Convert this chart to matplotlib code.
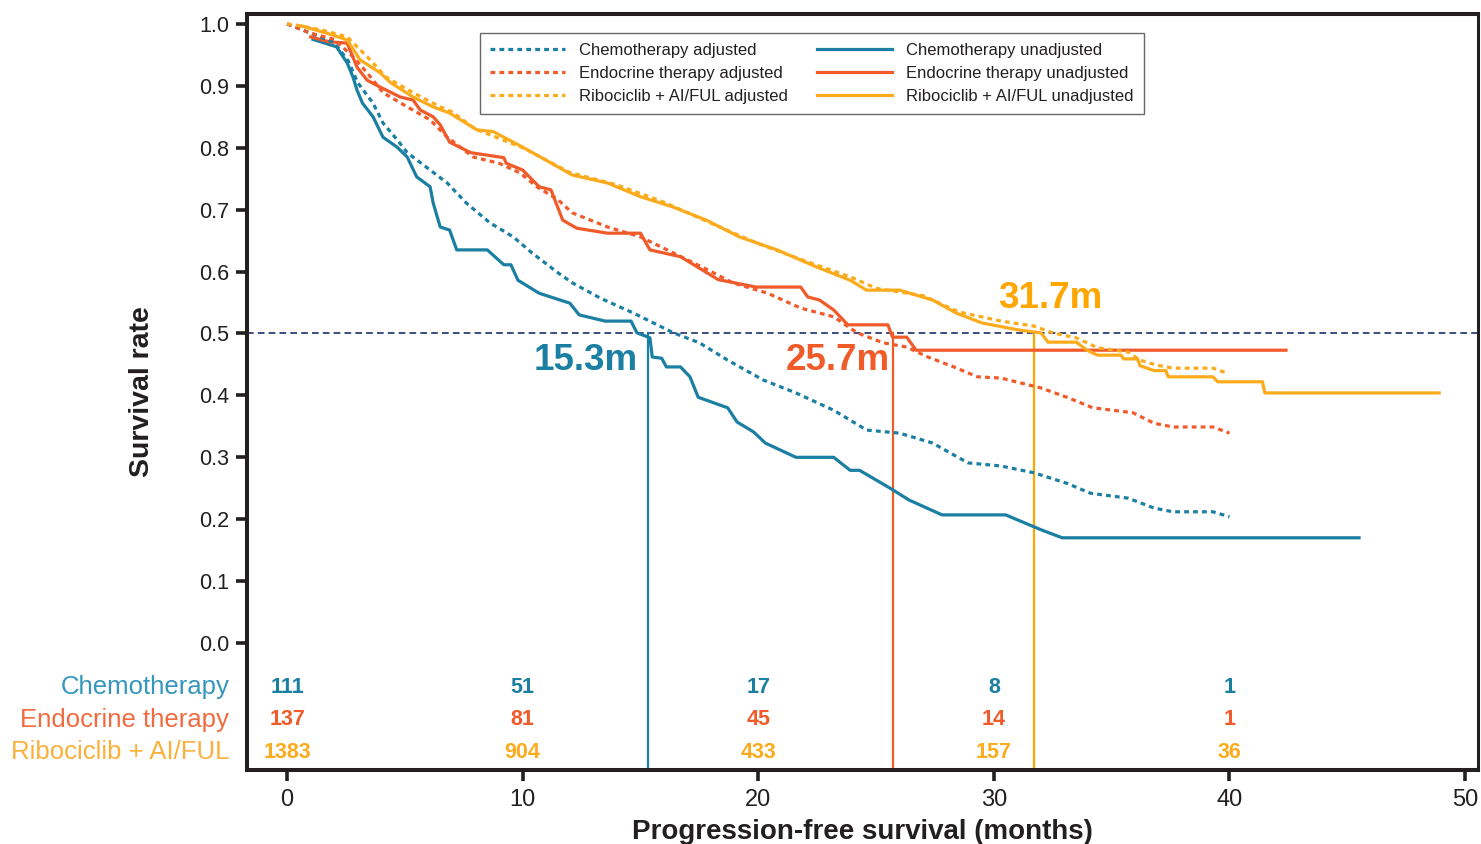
import matplotlib
matplotlib.use("Agg")
import matplotlib.pyplot as plt
from matplotlib import font_manager
from matplotlib.lines import Line2D

# ---- data -----------------------------------------------------------------
t_chemo_unadj = [1.1, 2.1, 2.55, 2.8, 2.97, 3.2, 3.65, 4.07, 4.67, 5.1, 5.5, 6.07, 6.2, 6.5, 6.9, 7.2,
                 8.5, 9.2, 9.5, 9.8, 10.7, 12.0, 12.4, 13.5, 14.6, 14.85, 15.4, 15.5, 15.9, 16.1, 16.7,
                 17.1, 17.45, 18.7, 19.1, 19.8, 20.3, 21.6, 23.2, 23.9, 24.3, 25.6, 26.4, 27.8, 30.5,
                 32.0, 32.9, 45.5]
s_chemo_unadj = [0.975, 0.963, 0.937, 0.914, 0.893, 0.872, 0.850, 0.817, 0.801, 0.785, 0.753, 0.737,
                 0.711, 0.672, 0.667, 0.635, 0.635, 0.611, 0.611, 0.586, 0.565, 0.549, 0.530, 0.520,
                 0.520, 0.501, 0.493, 0.462, 0.460, 0.446, 0.446, 0.430, 0.397, 0.380, 0.357, 0.341,
                 0.323, 0.300, 0.300, 0.279, 0.279, 0.250, 0.231, 0.207, 0.207, 0.183, 0.170, 0.170]

t_chemo_adj = [0, 1.0, 2.0, 2.6, 3.0, 3.65, 4.07, 4.67, 5.1, 5.9, 6.8, 7.6, 8.6, 9.6, 10.4, 11.5, 12.1,
               13.3, 14.7, 16.4, 17.5, 18.7, 20.2, 21.6, 23.2, 24.6, 26.0, 27.4, 28.9, 30.3, 31.7, 33.1,
               34.1, 35.7, 36.8, 37.6, 39.3, 40.0]
s_chemo_adj = [1.0, 0.985, 0.97, 0.94, 0.905, 0.872, 0.840, 0.813, 0.792, 0.769, 0.743, 0.711, 0.679,
               0.656, 0.630, 0.598, 0.582, 0.557, 0.533, 0.501, 0.485, 0.457, 0.425, 0.404, 0.376,
               0.344, 0.339, 0.323, 0.291, 0.286, 0.275, 0.258, 0.242, 0.234, 0.218, 0.212, 0.212, 0.204]

t_endo_unadj = [1.0, 1.8, 2.55, 2.97, 3.4, 3.95, 4.8, 5.35, 5.65, 6.2, 6.5, 6.9, 7.8, 9.2, 9.3, 10.0,
                10.7, 11.2, 11.7, 12.3, 13.6, 15.0, 15.4, 16.7, 18.3, 19.9, 21.8, 22.1, 22.6, 23.2,
                23.8, 25.5, 25.7, 26.3, 26.7, 42.4]
s_endo_unadj = [0.979, 0.971, 0.969, 0.930, 0.909, 0.898, 0.882, 0.877, 0.861, 0.850, 0.837, 0.809,
                0.792, 0.784, 0.775, 0.764, 0.737, 0.732, 0.683, 0.670, 0.662, 0.662, 0.635, 0.624,
                0.587, 0.575, 0.575, 0.559, 0.554, 0.538, 0.514, 0.514, 0.494, 0.494, 0.473, 0.473]

t_endo_adj = [0, 1.0, 2.0, 2.8, 3.4, 4.07, 5.1, 6.07, 6.8, 7.9, 9.0, 9.9, 10.6, 11.5, 12.1, 13.6, 15.0,
              16.4, 18.1, 18.9, 20.4, 21.8, 23.2, 24.2, 25.3, 26.3, 27.2, 28.3, 29.3, 30.3, 32.0, 33.1,
              34.2, 35.9, 36.8, 37.6, 39.3, 40.0]
s_endo_adj = [1.0, 0.985, 0.975, 0.947, 0.921, 0.889, 0.866, 0.845, 0.817, 0.785, 0.775, 0.759, 0.737,
              0.716, 0.695, 0.672, 0.656, 0.630, 0.598, 0.582, 0.565, 0.541, 0.527, 0.501, 0.485, 0.478,
              0.462, 0.446, 0.430, 0.428, 0.412, 0.397, 0.380, 0.372, 0.355, 0.349, 0.349, 0.339]

t_ribo_unadj = [0.6, 1.95, 2.55, 3.1, 3.95, 4.4, 5.35, 6.2, 6.9, 8.05, 8.75, 10.0, 11.5, 12.1, 13.6,
                15.0, 16.4, 17.8, 19.2, 20.8, 22.5, 23.9, 24.6, 26.0, 27.4, 28.4, 29.5, 31.0, 32.0,
                32.3, 33.5, 33.95, 34.4, 35.4, 35.5, 36.1, 36.2, 36.8, 37.3, 37.4, 39.3, 39.5, 41.4,
                41.5, 48.9]
s_ribo_unadj = [0.997, 0.982, 0.974, 0.942, 0.921, 0.905, 0.882, 0.866, 0.856, 0.829, 0.826, 0.801,
                0.769, 0.756, 0.743, 0.721, 0.704, 0.683, 0.656, 0.635, 0.607, 0.586, 0.570, 0.570,
                0.554, 0.533, 0.517, 0.506, 0.501, 0.486, 0.486, 0.473, 0.465, 0.465, 0.459, 0.459,
                0.448, 0.440, 0.440, 0.430, 0.430, 0.422, 0.422, 0.404, 0.404]

t_ribo_adj = [0, 0.4, 1.5, 2.55, 3.4, 4.2, 5.35, 6.5, 7.0, 8.0, 10, 12, 14, 16, 18, 20, 22, 24, 25, 27,
              28.5, 30.3, 31.7, 32.5, 33.5, 34.4, 35.7, 36.2, 36.9, 37.6, 39.3, 39.9]
s_ribo_adj = [1.0, 0.998, 0.990, 0.979, 0.947, 0.914, 0.889, 0.866, 0.858, 0.83, 0.80, 0.76, 0.74,
              0.712, 0.678, 0.645, 0.617, 0.590, 0.573, 0.561, 0.535, 0.520, 0.512, 0.501, 0.493,
              0.477, 0.470, 0.457, 0.449, 0.444, 0.444, 0.436]

groups = ["Chemotherapy", "Endocrine therapy", "Ribociclib + AI/FUL"]
medians = [15.3, 25.7, 31.7]
risk_times = [0, 10, 20, 30, 40]
at_risk_chemo = [111, 51, 17, 8, 1]
at_risk_endo = [137, 81, 45, 14, 1]
at_risk_ribo = [1383, 904, 433, 157, 36]

# ---- styling --------------------------------------------------------------
BLUE = "#1b7fa3"
ORANGE = "#f15a29"
YELLOW = "#fcab1c"
MED_YELLOW = "#ffa600"
LABEL_BLUE = "#3597bd"
LABEL_ORANGE = "#f26a3f"
LABEL_YELLOW = "#fbb03b"
NAVY = "#1c2f68"
INK = "#231f20"

names = {f.name for f in font_manager.fontManager.ttflist}
NARROW = "Liberation Sans Narrow" if "Liberation Sans Narrow" in names else "Liberation Sans"
WIDE = "Liberation Sans"

plt.rcParams["font.family"] = [WIDE, "DejaVu Sans"]

fig = plt.figure(figsize=(14.81, 8.44), dpi=100)
ax = fig.add_axes([0.1668, 0.0877, 0.8312, 0.8957])
ax.set_xlim(-1.7, 50.55)
ax.set_ylim(-0.205, 1.016)

LW = 2.3
DOT = (0, (1.5, 1.3))

ax.plot(t_chemo_unadj, s_chemo_unadj, color=BLUE, lw=LW)
ax.plot(t_endo_unadj, s_endo_unadj, color=ORANGE, lw=LW)
ax.plot(t_ribo_unadj, s_ribo_unadj, color=YELLOW, lw=LW)
ax.plot(t_chemo_adj, s_chemo_adj, color=BLUE, lw=LW, ls=DOT)
ax.plot(t_endo_adj, s_endo_adj, color=ORANGE, lw=LW, ls=DOT)
ax.plot(t_ribo_adj, s_ribo_adj, color=YELLOW, lw=LW, ls=DOT)

# median reference lines
ax.axhline(0.5, color=NAVY, lw=1.2, ls=(0, (4, 2.5)), zorder=1)
bottom = ax.get_ylim()[0]
for m, c in zip(medians, [BLUE, ORANGE, MED_YELLOW]):
    ax.plot([m, m], [0.5, bottom], color=c, lw=1.6, zorder=1.5)

ax.text(14.9, 0.457, f"{medians[0]}m", color=BLUE, fontsize=26.5, fontweight="bold",
        ha="right", va="center")
ax.text(25.6, 0.457, f"{medians[1]}m", color=ORANGE, fontsize=26.5, fontweight="bold",
        ha="right", va="center")
ax.text(30.18, 0.557, f"{medians[2]}m", color=MED_YELLOW, fontsize=26.5, fontweight="bold",
        ha="left", va="center")

# numbers at risk inside the plotting frame
rows = [(groups[0], at_risk_chemo, LABEL_BLUE, BLUE, -0.071),
        (groups[1], at_risk_endo, LABEL_ORANGE, ORANGE, -0.124),
        (groups[2], at_risk_ribo, LABEL_YELLOW, YELLOW, -0.176)]
for name, counts, lc, nc, yy in rows:
    ax.text(-2.45, yy, name, color=lc, fontsize=18.5, ha="right", va="center",
            family=NARROW, clip_on=False)
    for t, n in zip(risk_times, counts):
        ax.text(t, yy, str(n), color=nc, fontsize=15.5, fontweight="bold", ha="center",
                va="center", family=NARROW)

# axes frame and ticks
for side in ["left", "bottom", "top"]:
    ax.spines[side].set_linewidth(2.9)
ax.spines["right"].set_linewidth(2.2)
for sp in ax.spines.values():
    sp.set_color(INK)

ax.set_yticks([i / 10 for i in range(11)])
ax.set_yticklabels([f"{i / 10:.1f}" for i in range(11)])
ax.set_xticks([0, 10, 20, 30, 40, 50])
ax.tick_params(axis="y", length=8, width=2.6, color=INK, labelsize=15.5, pad=5, labelcolor=INK)
ax.tick_params(axis="x", length=8, width=2.6, color=INK, labelsize=17, pad=6, labelcolor=INK)
for lab in ax.get_xticklabels():
    lab.set_family(NARROW)

ax.set_xlabel("Progression-free survival (months)", fontsize=20, fontweight="bold",
              family=NARROW, color=INK)
ax.xaxis.set_label_coords(0.5, -0.065)
ax.set_ylabel("Survival rate", fontsize=20.5, fontweight="bold", family=NARROW, color=INK)
ax.yaxis.set_label_coords(-0.075, 0.50)

handles = [
    Line2D([], [], color=BLUE, lw=LW, ls=DOT),
    Line2D([], [], color=ORANGE, lw=LW, ls=DOT),
    Line2D([], [], color=YELLOW, lw=LW, ls=DOT),
    Line2D([], [], color=BLUE, lw=LW),
    Line2D([], [], color=ORANGE, lw=LW),
    Line2D([], [], color=YELLOW, lw=LW),
]
labels = ["Chemotherapy adjusted", "Endocrine therapy adjusted", "Ribociclib + AI/FUL adjusted",
          "Chemotherapy unadjusted", "Endocrine therapy unadjusted", "Ribociclib + AI/FUL unadjusted"]
leg = ax.legend(handles, labels, ncol=2, loc="upper left", bbox_to_anchor=(0.189, 0.975),
                borderaxespad=0, fancybox=False, frameon=True, handlelength=4.5,
                handletextpad=0.85, columnspacing=1.75, labelspacing=0.48, borderpad=0.6,
                prop={"family": NARROW, "size": 12})
leg.get_frame().set_edgecolor("#444444")
leg.get_frame().set_linewidth(1.0)
for txt in leg.get_texts():
    txt.set_color(INK)

fig.savefig("out.png", dpi=100)
